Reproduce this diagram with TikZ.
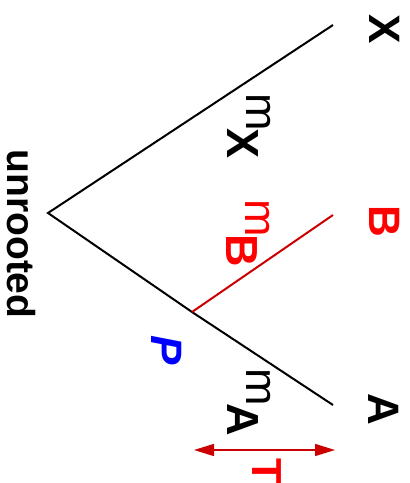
\documentclass[tikz,border=0pt]{standalone}
\usepackage{fontspec}
\setmainfont{Liberation Sans}
\usetikzlibrary{arrows.meta}
\definecolor{branchred}{HTML}{CC0000}
\definecolor{labelred}{HTML}{FF0000}
\definecolor{pblue}{HTML}{0000FF}

\begin{document}
\begin{tikzpicture}[x=1pt, y=-1pt, line width=2pt,
    tiplabel/.style={rotate=-90, inner sep=0pt, font=\fontsize{44}{50}\selectfont\bfseries},
    lenlabel/.style={rotate=-90, inner sep=0pt, font=\fontsize{45}{50}\selectfont}]
  \useasboundingbox (0,0) rectangle (410,483);

  % Baum ohne Wurzel
  \coordinate (root) at (48,213);
  \coordinate (jointP) at (192,312);
  \coordinate (tipX) at (333,25);
  \coordinate (tipB) at (333,215);
  \coordinate (tipA) at (333,405);
  \draw (tipX) -- (root) -- (jointP) -- (tipA);
  \draw[branchred] (jointP) -- (tipB);

  % Blattnamen
  \node[tiplabel] (labX) at (385,29) {X};
  \node[tiplabel, labelred] (labB) at (385,221) {B};
  \node[tiplabel] (labA) at (384,409) {A};
  \node[tiplabel, font=\fontsize{39}{45}\selectfont\bfseries] (labroot) at (21,234) {unrooted};

  % Kantenlaengen
  \node[lenlabel] (lenX) at (249,126) {m\kern-2pt\raisebox{-19pt}{\bfseries X}};
  \node[lenlabel, labelred] (lenB) at (248,233) {m\kern-2pt\raisebox{-19pt}{\bfseries B}};
  \node[lenlabel] (lenA) at (249,402) {m\kern-2pt\raisebox{-19pt}{\bfseries A}};
  \node[tiplabel, pblue, font=\fontsize{44}{50}\selectfont\bfseries\itshape] (labP) at (167,350) {P};

  % Zeitspanne T
  \coordinate (spanL) at (194,450);
  \coordinate (spanR) at (335,450);
  \draw[branchred, line width=1.5pt, {Triangle[length=20pt, width=12pt]}-{Triangle[length=20pt, width=12pt]}] (spanL) -- (spanR);
  \node[tiplabel, labelred, font=\fontsize{42}{48}\selectfont\bfseries] (labT) at (267,471) {T};
\end{tikzpicture}
\end{document}
